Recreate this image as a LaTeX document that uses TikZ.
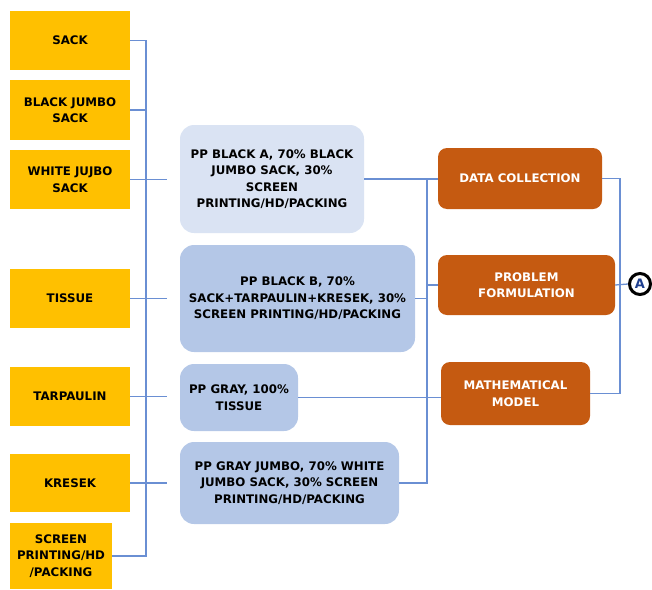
\documentclass[tikz,border=0pt]{standalone}
\usepackage{fontspec}
\setmainfont{DejaVu Sans}
\definecolor{yel}{HTML}{FFC000}
\definecolor{lbA}{HTML}{DAE3F3}
\definecolor{lbB}{HTML}{B4C7E7}
\definecolor{org}{HTML}{C55A11}
\definecolor{lin}{HTML}{6A8FD3}
\definecolor{Ablue}{HTML}{1F3F8F}
\begin{document}
\begin{tikzpicture}[x=1pt,y=-1pt,
  every node/.style={font=\fontsize{11.8}{16.5}\selectfont\bfseries, align=center, inner sep=0pt},
  ybox/.style={fill=yel, minimum width=120pt, minimum height=59pt},
  mbox/.style={rounded corners=14pt},
  obox/.style={fill=org, text=white, rounded corners=9pt},
  conn/.style={draw=lin, line width=1.3pt}]
\useasboundingbox (0,0) rectangle (652,589);
% left column
\node[ybox] (sack) at (70,40.5) {SACK};
\node[ybox, minimum height=60pt] (bjs) at (70,110) {BLACK JUMBO\\SACK};
\node[ybox] (wjs) at (70,179.5) {WHITE JUJBO\\SACK};
\node[ybox] (tissue) at (70,298.5) {TISSUE};
\node[ybox] (tarp) at (70,396.5) {TARPAULIN};
\node[ybox, minimum height=58pt] (kresek) at (70,483) {KRESEK};
\node[ybox, minimum width=102pt, minimum height=66pt] (screen) at (61,556) {SCREEN\\PRINTING/HD\\/PACKING};
% middle column
\node[mbox, fill=lbA, minimum width=184pt, minimum height=108pt] (pba) at (272,179) {PP BLACK A, 70\% BLACK\\JUMBO SACK, 30\%\\SCREEN\\PRINTING/HD/PACKING};
\node[mbox, fill=lbB, minimum width=235pt, minimum height=107pt] (pbb) at (297.5,298.5) {PP BLACK B, 70\%\\SACK+TARPAULIN+KRESEK, 30\%\\SCREEN PRINTING/HD/PACKING};
\node[mbox, fill=lbB, minimum width=118pt, minimum height=67pt] (pg) at (239,397.5) {PP GRAY, 100\%\\TISSUE};
\node[mbox, fill=lbB, minimum width=219pt, minimum height=82pt] (pgj) at (289.5,483) {PP GRAY JUMBO, 70\% WHITE\\JUMBO SACK, 30\% SCREEN\\PRINTING/HD/PACKING};
% right column
\node[obox, minimum width=164pt, minimum height=61pt] (dc) at (520,178.5) {DATA COLLECTION};
\node[obox, minimum width=177pt, minimum height=60pt] (pf) at (526.5,285) {PROBLEM\\FORMULATION};
\node[obox, minimum width=149pt, minimum height=63pt] (mm) at (515.5,393.5) {MATHEMATICAL\\MODEL};
\node[circle, draw=black, line width=3pt, fill=white, minimum size=21pt, font=\fontsize{13}{14}\selectfont\bfseries, text=Ablue] (A) at (640,284) {A};
% bus coordinates
\coordinate (busL) at (146,0);
\coordinate (stubL) at (167,0);
\coordinate (busM) at (427,0);
\coordinate (busR) at (620,0);
% left connectors
\draw[conn] (sack.east) -- (sack.east -| busL) -- (busL |- screen.east) -- (screen.east);
\draw[conn] (bjs.east) -- (bjs.east -| busL);
\foreach \n in {wjs,tissue,tarp,kresek} \draw[conn] (\n.east) -- (\n.east -| stubL);
% middle connectors
\draw[conn] (pba.east) -- (pba.east -| dc.west);
\draw[conn] (busM |- pba.east) -- (busM |- pgj.east) -- (pgj.east);
\draw[conn] (pbb.east) -- (pbb.east -| busM);
\draw[conn] (busM |- pf.west) -- (pf.west);
\draw[conn] (pg.east) -- (pg.east -| mm.west);
% right connectors
\draw[conn] (dc.east) -- (dc.east -| busR) -- (busR |- mm.east) -- (mm.east);
\draw[conn] (pf.east) -- (A.west);
\end{tikzpicture}
\end{document}
